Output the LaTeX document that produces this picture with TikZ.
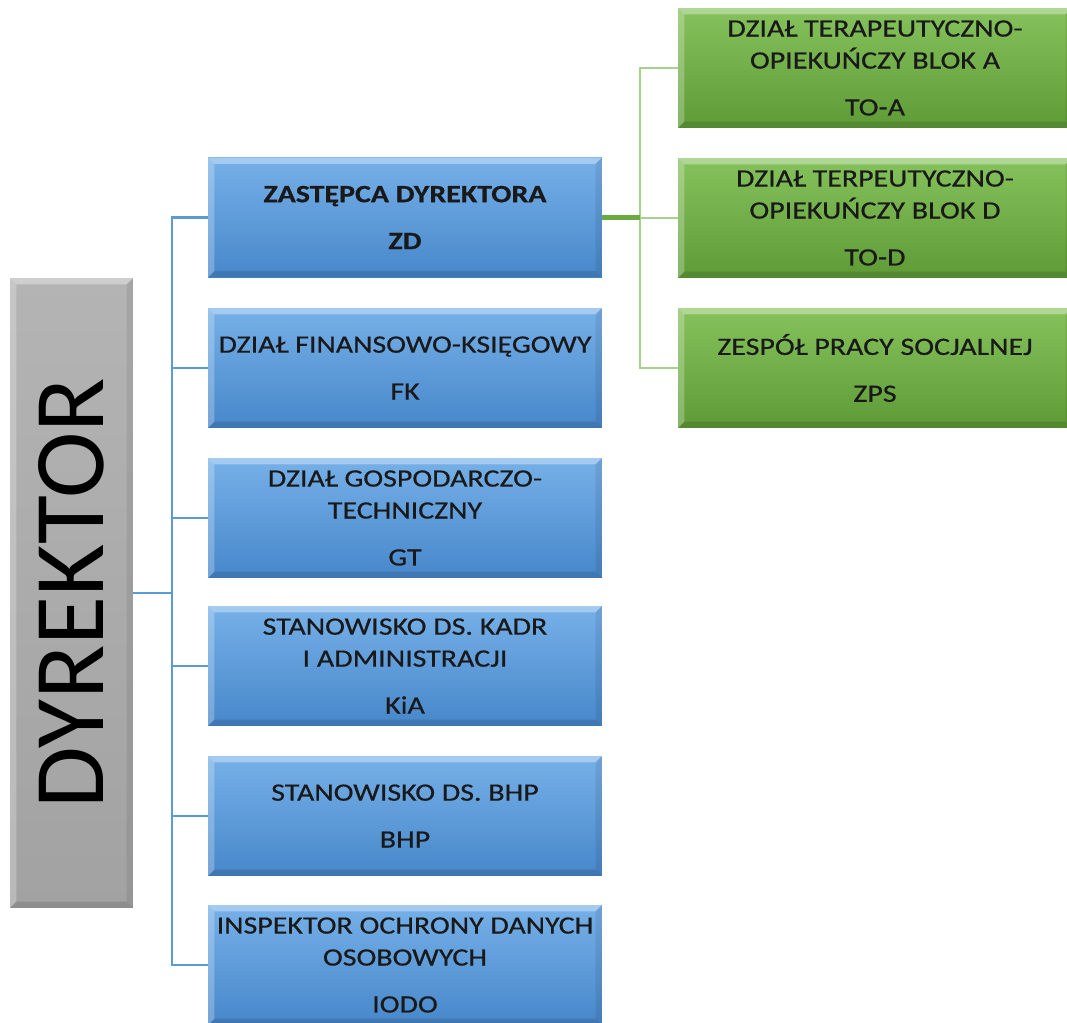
\documentclass[tikz,border=0pt]{standalone}
\usepackage{fontspec}
\setmainfont{Carlito}
\newfontfamily\boxfont[FakeStretch=1.2,FakeBold=0.5]{Carlito}

\definecolor{bluetop}{HTML}{76B0E8}
\definecolor{bluebot}{HTML}{4787CA}
\definecolor{greentop}{HTML}{86C25C}
\definecolor{greenbot}{HTML}{5E9B36}
\definecolor{graytop}{HTML}{B4B4B4}
\definecolor{graybot}{HTML}{A2A2A2}
\definecolor{bluelink}{HTML}{5B9BD5}
\definecolor{greenlink}{HTML}{A9D18E}
\definecolor{greendark}{HTML}{6AAA40}

\newcommand\bevw{3.6pt}

\tikzset{
	bevel/.style={path picture={
		\fill[white,opacity=.35] (path picture bounding box.north west) -- (path picture bounding box.north east)
			-- ([shift={(-\bevw,-\bevw)}]path picture bounding box.north east) -- ([shift={(\bevw,-\bevw)}]path picture bounding box.north west) -- cycle;
		\fill[white,opacity=.25] (path picture bounding box.north west) -- ([shift={(\bevw,-\bevw)}]path picture bounding box.north west)
			-- ([shift={(\bevw,\bevw)}]path picture bounding box.south west) -- (path picture bounding box.south west) -- cycle;
		\fill[black,opacity=.08] (path picture bounding box.north east) -- ([shift={(-\bevw,-\bevw)}]path picture bounding box.north east)
			-- ([shift={(-\bevw,\bevw)}]path picture bounding box.south east) -- (path picture bounding box.south east) -- cycle;
		\fill[black,opacity=.12] (path picture bounding box.south west) -- ([shift={(\bevw,\bevw)}]path picture bounding box.south west)
			-- ([shift={(-\bevw,\bevw)}]path picture bounding box.south east) -- (path picture bounding box.south east) -- cycle;
	}},
	unit/.style={rectangle, inner sep=0pt, align=center, minimum width=7.88cm, minimum height=2.4cm,
		font=\boxfont\fontsize{14.2}{18.2}\selectfont, text=black!90, bevel},
	bluebox/.style={unit, top color=bluetop, bottom color=bluebot},
	greenbox/.style={unit, top color=greentop, bottom color=greenbot},
	headbox/.style={rectangle, inner sep=0pt, minimum width=2.46cm, minimum height=12.6cm,
		top color=graytop, bottom color=graybot, font=\fontsize{57}{60}\selectfont, bevel},
	bline/.style={draw=bluelink, line width=1.3pt},
	gline/.style={draw=greenlink, line width=1.3pt},
	gthick/.style={draw=greendark, line width=2.4pt},
	elbow/.style={to path={-| (\tikztotarget)}}
}

\begin{document}
\begin{tikzpicture}[x=0.02cm, y=-0.02cm]
	\useasboundingbox[fill=white] (0,0) rectangle (1067,1023);

	\node[headbox] (dyr) at (71.5,593) {\rotatebox{90}{DYREKTOR}};

	\node[bluebox] (zd) at (405,217.5) {\bfseries ZASTĘPCA DYREKTORA\\[8.5pt]\bfseries ZD};
	\node[bluebox] (fk) at (405,368) {DZIAŁ FINANSOWO-KSIĘGOWY\\[8.5pt]FK};
	\node[bluebox] (gt) at (405,518) {DZIAŁ GOSPODARCZO-\\TECHNICZNY\\[8.5pt]GT};
	\node[bluebox] (kia) at (405,666) {STANOWISKO DS. KADR\\I ADMINISTRACJI\\[8.5pt]KiA};
	\node[bluebox] (bhp) at (405,816) {STANOWISKO DS. BHP\\[8.5pt]BHP};
	\node[bluebox] (iodo) at (405,965) {INSPEKTOR OCHRONY DANYCH\\OSOBOWYCH\\[8.5pt]IODO};

	\node[greenbox] (toa) at (875,68) {DZIAŁ TERAPEUTYCZNO-\\OPIEKUŃCZY BLOK A\\[8.5pt]TO-A};
	\node[greenbox] (tod) at (875,218) {DZIAŁ TERPEUTYCZNO-\\OPIEKUŃCZY BLOK D\\[8.5pt]TO-D};
	\node[greenbox] (zps) at (875,368) {ZESPÓŁ PRACY SOCJALNEJ\\[8.5pt]ZPS};

	\coordinate (bj) at (172,593);
	\coordinate (gj) at (640,217.5);

	\path [bline] (dyr) edge (bj);
	\path [bline] (zd.west) edge[elbow] (bj);
	\path [bline] (fk.west) edge[elbow] (bj);
	\path [bline] (gt.west) edge[elbow] (bj);
	\path [bline] (kia.west) edge[elbow] (bj);
	\path [bline] (bhp.west) edge[elbow] (bj);
	\path [bline] (iodo.west) edge[elbow] (bj);

	\path [gline] (toa.west) edge[elbow] (gj);
	\path [gline] (tod.west) edge[elbow] (gj);
	\path [gline] (zps.west) edge[elbow] (gj);
	\path [gthick] (zd) edge (gj);
\end{tikzpicture}
\end{document}
